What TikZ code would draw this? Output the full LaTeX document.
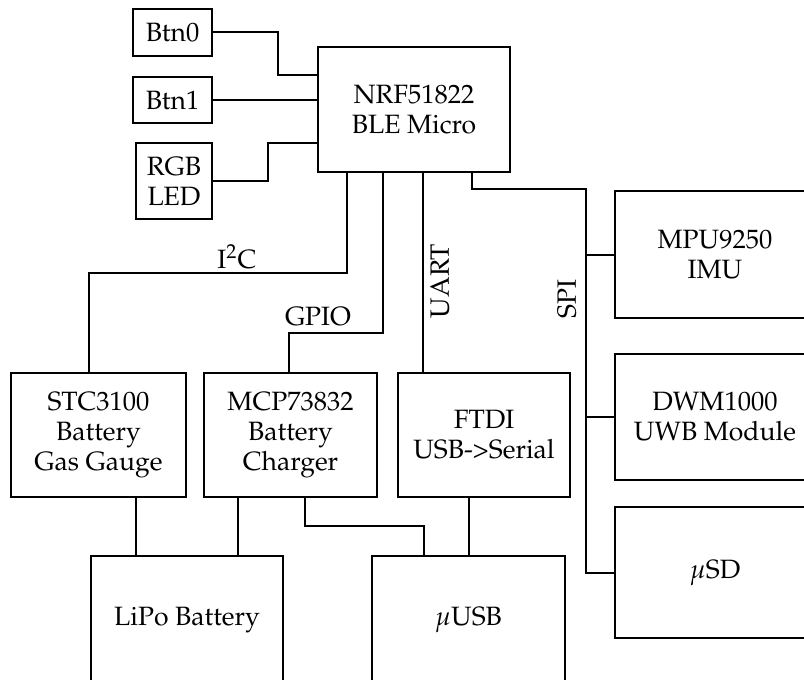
\documentclass[tikz,border=0pt]{standalone}
\usepackage[T1]{fontenc}
\usepackage{mathpazo}
\usetikzlibrary{calc}

\begin{document}
\begin{tikzpicture}[
  x=0.4pt, y=-0.4pt,
  font=\fontsize{10.6}{12}\selectfont,
  box/.style={draw, thick, align=center, inner sep=0pt, fill=white},
  wire/.style={thick},
  lbl/.style={inner sep=0pt},
]
\useasboundingbox (0,0) rectangle (804,679);
\clip (0,0) rectangle (804,679);

% ---- Micro and its inputs ----
\node[box, minimum width=76.8pt, minimum height=50pt] (nrf) at (414,109.5)
  {NRF51822\\BLE Micro};
\node[box, minimum width=31.6pt, minimum height=18.8pt] (btn0) at (172.5,32.5) {Btn0};
\node[box, minimum width=31.6pt, minimum height=18.4pt] (btn1) at (172.5,100) {Btn1};
\node[box, minimum width=30.4pt, minimum height=30.4pt] (rgb)  at (174,181) {RGB\\LED};

\draw[wire] (btn0.east) -| ($(nrf.west)+(-39,-34.5)$) -- ($(nrf.west)+(0,-34.5)$);
\draw[wire] (btn1.east) -- (btn1.east -| nrf.west);
\draw[wire] (rgb.east) -| ($(nrf.west)+(-49,33.5)$) -- ($(nrf.west)+(0,33.5)$);

% ---- Middle row ----
\node[box, minimum width=70pt,   minimum height=49.6pt] (stc)  at (98.5,435)  {STC3100\\Battery\\Gas Gauge};
\node[box, minimum width=69.2pt, minimum height=49.6pt] (mcp)  at (290.5,435) {MCP73832\\Battery\\Charger};
\node[box, minimum width=68.8pt, minimum height=49.6pt] (ftdi) at (484,435)   {FTDI\\USB->Serial};

% ---- Bottom row ----
\node[box, minimum width=76.8pt, minimum height=51.2pt] (lipo) at (187,620)   {LiPo Battery};
\node[box, minimum width=77.2pt, minimum height=51.2pt] (usb)  at (468.5,620) {$\mu$USB};

% ---- SPI devices ----
\node[box, minimum width=80pt, minimum height=50.8pt] (mpu) at (715,254.5) {MPU9250\\IMU};
\node[box, minimum width=80pt, minimum height=50.4pt] (dwm) at (715,417)   {DWM1000\\UWB Module};
\node[box, minimum width=80pt, minimum height=52.4pt] (usd) at (715,572.5) {$\mu$SD};

% buses from the micro
\draw[wire] ($(nrf.south)+(-67,0)$) |- ($(stc.north)+(-9.5,-99)$) -- ($(stc.north)+(-9.5,0)$);
\node[lbl] (i2c) at (237,257) {I$^2$C};
\draw[wire] ($(nrf.south)+(-31,0)$) |- ($(mcp.north)+(-1.5,-39)$) -- ($(mcp.north)+(-1.5,0)$);
\node[lbl] (gpio) at (318,317) {GPIO};
\draw[wire] ($(nrf.south)+(9,0)$) -- ($(ftdi.north)+(-61,0)$);
\node[lbl, rotate=90] (uart) at (440,281) {UART};

\coordinate (bus) at ($(mpu.north west)+(-28,-1)$);
\draw[wire] ($(nrf.south)+(58,0)$) |- (bus) |- (usd.west);
\draw[wire] (mpu.west -| bus) -- (mpu.west);
\draw[wire] (dwm.west -| bus) -- (dwm.west);
\node[lbl, rotate=90] (spi) at (567,299) {SPI};

% power and usb
\draw[wire] ($(stc.south)+(37.5,0)$) coordinate (s1) -- (s1 |- lipo.north);
\draw[wire] ($(mcp.south)+(-52.5,0)$) coordinate (s2) -- (s2 |- lipo.north);
\draw[wire] ($(mcp.south)+(14.5,0)$) |- ($(usb.north)+(-44.5,-29)$) -- ($(usb.north)+(-44.5,0)$);
\draw[wire] (usb.north) -- (usb.north |- ftdi.south);
\end{tikzpicture}
\end{document}
